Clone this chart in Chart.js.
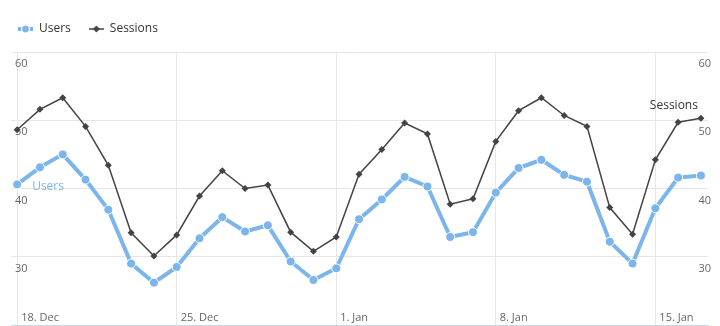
<!DOCTYPE html>
<html>
<head>
<meta charset="utf-8">
<script src="https://cdn.jsdelivr.net/npm/chart.js@4"></script>
<style>
  html, body { margin: 0; padding: 0; background: #fff; }
  canvas { display: block; }
</style>
</head>
<body>
<canvas id="chart" width="720" height="326"></canvas>
<script>
// daily traffic, 18 Dec -> 17 Jan (x = day index)
const days = ['18 Dec','19 Dec','20 Dec','21 Dec','22 Dec','23 Dec','24 Dec','25 Dec','26 Dec','27 Dec','28 Dec','29 Dec','30 Dec','31 Dec',
  '1 Jan','2 Jan','3 Jan','4 Jan','5 Jan','6 Jan','7 Jan','8 Jan','9 Jan','10 Jan','11 Jan','12 Jan','13 Jan','14 Jan','15 Jan','16 Jan','17 Jan'];
const users = [40.6, 43.1, 45.0, 41.3, 36.9, 29.0, 26.2, 28.5, 32.7, 35.8, 33.7, 34.6, 29.3, 26.6, 28.3, 35.5,
  38.4, 41.7, 40.3, 32.9, 33.6, 39.4, 43.0, 44.2, 42.0, 41.0, 32.2, 29.0, 37.1, 41.6, 41.9];
const sessions = [48.6, 51.6, 53.3, 49.1, 43.4, 33.5, 30.1, 33.2, 38.9, 42.6, 40.0, 40.5, 33.6, 30.8, 32.9, 42.1,
  45.7, 49.6, 48.0, 37.7, 38.5, 46.9, 51.4, 53.3, 50.7, 49.1, 37.2, 33.3, 44.2, 49.7, 50.3];
const tickDays = [0, 7, 14, 21, 28];
const tickLabels = ['18. Dec', '25. Dec', '1. Jan', '8. Jan', '15. Jan'];

const FONT = '"Open Sans", "DejaVu Sans", sans-serif';
Chart.defaults.font.family = FONT;

// little line+marker pictures for the legend
function legendIcon(color, lineW, marker) {
  const c = document.createElement('canvas');
  c.width = 15; c.height = 10;
  const g = c.getContext('2d');
  g.strokeStyle = color; g.fillStyle = color; g.lineWidth = lineW;
  g.beginPath(); g.moveTo(0, 5); g.lineTo(15, 5); g.stroke();
  g.beginPath();
  if (marker === 'circle') {
    g.arc(7.5, 5, 4, 0, Math.PI * 2);
    g.fill();
    g.strokeStyle = '#fff'; g.lineWidth = 1.2; g.stroke();
  } else {
    g.moveTo(7.5, 1.5); g.lineTo(11, 5); g.lineTo(7.5, 8.5); g.lineTo(4, 5); g.closePath();
    g.fill();
  }
  return c;
}
const icons = [legendIcon('#7cb5ec', 4, 'circle'), legendIcon('#434348', 1.5, 'diamond')];

// extra room under the legend
const legendGap = {
  id: 'legendGap',
  beforeInit(chart) {
    const fit = chart.legend.fit;
    chart.legend.fit = function () {
      fit.call(this);
      this.height += 7;
    };
  }
};

// y axes: fixed width, no label padding pushing the plot around
function yFit(w) {
  return s => { s.width = w; s.paddingTop = 0; s.paddingBottom = 0; };
}

// x labels sit inside the plot, plus the series name labels
const insideLabels = {
  id: 'insideLabels',
  afterDatasetsDraw(chart) {
    const { ctx, chartArea, scales: { x } } = chart;
    ctx.save();
    ctx.font = '11px ' + FONT;
    ctx.fillStyle = '#666666';
    ctx.textBaseline = 'middle';
    ctx.textAlign = 'left';
    tickDays.forEach((d, i) => {
      ctx.fillText(tickLabels[i], x.getPixelForValue(d) + 4, chartArea.bottom - 7.5);
    });

    ctx.font = '12px ' + FONT;
    const u0 = chart.getDatasetMeta(0).data[0];
    ctx.fillStyle = '#7cb5ec';
    ctx.fillText('Users', u0.x + 15, u0.y + 2);
    const sMeta = chart.getDatasetMeta(1).data;
    const sLast = sMeta[sMeta.length - 1];
    ctx.fillStyle = '#333333';
    ctx.textAlign = 'right';
    ctx.fillText('Sessions', sLast.x - 3, sLast.y - 13);
    ctx.restore();
  }
};

new Chart(document.getElementById('chart'), {
  type: 'line',
  data: {
    datasets: [
      {
        label: 'Users',
        data: users.map((v, i) => ({ x: i, y: v })),
        borderColor: '#7cb5ec',
        backgroundColor: '#7cb5ec',
        borderWidth: 4,
        pointRadius: 4.5,
        pointBorderColor: '#ffffff',
        pointBorderWidth: 1,
        pointBackgroundColor: '#7cb5ec',
        tension: 0
      },
      {
        label: 'Sessions',
        data: sessions.map((v, i) => ({ x: i, y: v })),
        borderColor: '#434348',
        backgroundColor: '#434348',
        borderWidth: 1.5,
        pointStyle: 'rectRot',
        pointRadius: 3.5,
        pointBorderWidth: 0,
        pointBackgroundColor: '#434348',
        tension: 0
      }
    ]
  },
  options: {
    responsive: false,
    animation: false,
    devicePixelRatio: 1,
    layout: { autoPadding: false, padding: { top: 5, left: 0, right: 0, bottom: 0 } },
    plugins: {
      tooltip: { enabled: false },
      legend: {
        position: 'top',
        align: 'start',
        labels: {
          usePointStyle: true,
          pointStyleWidth: 15,
          padding: 18,
          color: '#333333',
          font: { size: 12 },
          generateLabels(chart) {
            const items = Chart.defaults.plugins.legend.labels.generateLabels(chart);
            items.forEach((it, i) => { it.pointStyle = icons[i]; });
            return items;
          }
        }
      }
    },
    scales: {
      x: {
        type: 'linear',
        min: -0.27,
        max: 30.31,
        afterBuildTicks(s) { s.ticks = tickDays.map(v => ({ value: v })); },
        afterFit(s) { s.height = 1; s.paddingLeft = 0; s.paddingRight = 0; },
        ticks: { display: false },
        grid: { color: '#e6e6e6', drawTicks: false },
        border: { color: '#ccd6eb', width: 1 }
      },
      y: {
        position: 'left',
        min: 20,
        max: 60,
        afterFit: yFit(11),
        ticks: {
          stepSize: 10,
          mirror: true,
          padding: 4,
          labelOffset: 12,
          color: '#666666',
          font: { size: 11 },
          callback: v => (v === 20 ? null : v)
        },
        grid: { color: '#e6e6e6', drawTicks: false },
        border: { display: false }
      },
      y2: {
        position: 'right',
        min: 20,
        max: 60,
        afterFit: yFit(12),
        ticks: {
          stepSize: 10,
          mirror: true,
          padding: 3,
          labelOffset: 12,
          color: '#666666',
          font: { size: 11 },
          callback: v => (v === 20 ? null : v)
        },
        grid: { display: false },
        border: { display: false }
      }
    }
  },
  plugins: [legendGap, insideLabels]
});
</script>
</body>
</html>
